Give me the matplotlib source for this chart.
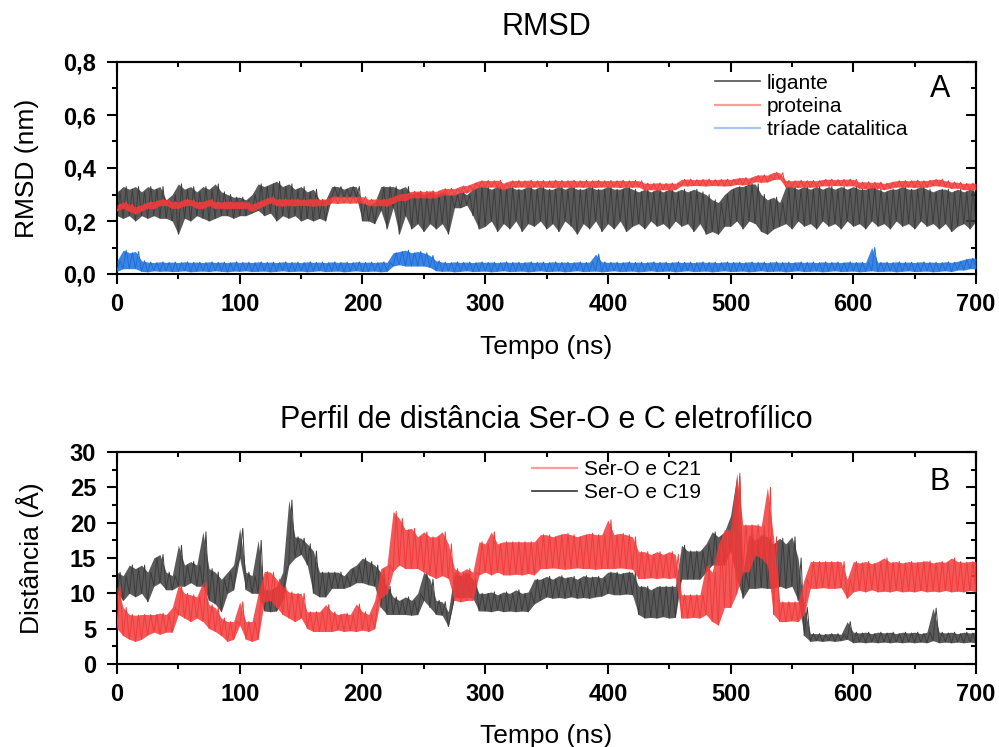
import numpy as np
import matplotlib
matplotlib.use("Agg")
import matplotlib.pyplot as plt
from matplotlib.ticker import MultipleLocator, FuncFormatter, NullFormatter
from matplotlib.lines import Line2D

plt.rcParams['font.family'] = ['Liberation Sans', 'DejaVu Sans']

# time grid (ns), one envelope pair (low / high) read every 5 ns
t = np.arange(0, 705, 5)

# ---- panel A: RMSD (nm) ----
lig_hi = [0.31,0.33,0.32,0.33,0.31,0.33,0.32,0.33,0.28,0.30,0.34,0.32,0.33,0.31,0.33,0.32,0.34,0.31,0.30,0.29,
          0.29,0.28,0.30,0.34,0.33,0.34,0.35,0.33,0.34,0.32,0.33,0.31,0.32,0.28,0.28,0.33,0.33,0.32,0.33,0.33,
          0.27,0.26,0.27,0.33,0.33,0.33,0.32,0.33,0.30,0.31,0.30,0.31,0.30,0.31,0.30,0.30,0.31,0.30,0.32,0.33,
          0.33,0.32,0.33,0.32,0.33,0.32,0.32,0.33,0.32,0.33,0.32,0.32,0.33,0.32,0.33,0.32,0.32,0.33,0.32,0.32,
          0.33,0.32,0.32,0.33,0.32,0.31,0.32,0.31,0.32,0.31,0.32,0.31,0.32,0.31,0.32,0.31,0.30,0.28,0.27,0.30,
          0.32,0.33,0.33,0.34,0.34,0.30,0.28,0.29,0.27,0.33,0.33,0.32,0.33,0.32,0.33,0.32,0.33,0.32,0.33,0.32,
          0.33,0.32,0.32,0.33,0.32,0.31,0.32,0.32,0.33,0.32,0.32,0.33,0.32,0.31,0.32,0.32,0.31,0.32,0.31,0.32,
          0.31]
lig_lo = [0.22,0.21,0.22,0.20,0.22,0.21,0.22,0.21,0.21,0.20,0.15,0.21,0.20,0.22,0.21,0.20,0.21,0.22,0.22,0.21,
          0.22,0.22,0.23,0.24,0.22,0.23,0.20,0.22,0.21,0.22,0.20,0.21,0.20,0.21,0.20,0.29,0.29,0.29,0.29,0.29,
          0.20,0.20,0.19,0.24,0.17,0.25,0.15,0.22,0.17,0.19,0.16,0.19,0.17,0.19,0.15,0.25,0.25,0.26,0.22,0.17,
          0.18,0.20,0.16,0.19,0.17,0.20,0.16,0.19,0.18,0.20,0.17,0.19,0.16,0.20,0.18,0.15,0.19,0.17,0.20,0.16,
          0.19,0.17,0.20,0.16,0.18,0.19,0.17,0.20,0.18,0.19,0.17,0.20,0.18,0.19,0.16,0.19,0.15,0.16,0.15,0.18,
          0.18,0.20,0.17,0.20,0.19,0.16,0.15,0.17,0.18,0.19,0.17,0.20,0.18,0.19,0.17,0.20,0.18,0.19,0.17,0.20,
          0.18,0.19,0.17,0.20,0.18,0.19,0.17,0.20,0.18,0.19,0.17,0.20,0.18,0.19,0.17,0.19,0.16,0.18,0.19,0.17,
          0.20]

prot_hi = [0.262,0.272,0.264,0.254,0.262,0.272,0.274,0.282,0.281,0.273,0.272,0.283,0.281,0.272,0.274,0.282,0.273,0.272,0.274,0.272,
           0.273,0.272,0.264,0.273,0.283,0.292,0.282,0.284,0.282,0.283,0.281,0.282,0.284,0.282,0.283,0.292,0.294,0.292,0.293,0.292,
           0.292,0.282,0.283,0.282,0.284,0.293,0.302,0.304,0.312,0.313,0.312,0.314,0.312,0.322,0.323,0.322,0.332,0.334,0.343,0.352,
           0.353,0.352,0.354,0.343,0.352,0.353,0.352,0.354,0.352,0.353,0.352,0.354,0.353,0.352,0.354,0.352,0.353,0.352,0.354,0.352,
           0.353,0.352,0.354,0.352,0.353,0.352,0.343,0.342,0.344,0.342,0.343,0.342,0.357,0.358,0.356,0.357,0.358,0.356,0.357,0.358,
           0.357,0.362,0.364,0.362,0.372,0.374,0.373,0.384,0.382,0.353,0.352,0.354,0.352,0.353,0.352,0.357,0.358,0.356,0.357,0.358,
           0.357,0.347,0.348,0.346,0.347,0.342,0.347,0.352,0.353,0.352,0.354,0.352,0.353,0.357,0.358,0.352,0.347,0.346,0.342,0.343,
           0.342]
prot_lo = [0.238,0.248,0.236,0.226,0.238,0.248,0.246,0.258,0.259,0.247,0.248,0.257,0.259,0.248,0.246,0.258,0.247,0.248,0.246,0.248,
           0.247,0.248,0.236,0.247,0.257,0.268,0.258,0.256,0.258,0.257,0.259,0.258,0.256,0.258,0.257,0.268,0.266,0.268,0.267,0.268,
           0.268,0.258,0.257,0.258,0.256,0.267,0.278,0.276,0.288,0.287,0.288,0.286,0.288,0.298,0.297,0.298,0.308,0.306,0.317,0.328,
           0.327,0.328,0.326,0.317,0.328,0.327,0.328,0.326,0.328,0.327,0.328,0.326,0.327,0.328,0.326,0.328,0.327,0.328,0.326,0.328,
           0.327,0.328,0.326,0.328,0.327,0.328,0.317,0.318,0.316,0.318,0.317,0.318,0.333,0.332,0.334,0.333,0.332,0.334,0.333,0.332,
           0.333,0.338,0.336,0.338,0.348,0.346,0.347,0.356,0.358,0.327,0.328,0.326,0.328,0.327,0.328,0.333,0.332,0.334,0.333,0.332,
           0.333,0.323,0.322,0.324,0.323,0.318,0.323,0.328,0.327,0.328,0.326,0.328,0.327,0.333,0.332,0.328,0.323,0.324,0.318,0.317,
           0.318]

tri_hi = [0.050,0.090,0.080,0.085,0.050,0.045,0.043,0.046,0.044,0.045,0.043,0.046,0.044,0.045,0.043,0.046,0.044,0.045,0.043,0.046,
          0.044,0.045,0.043,0.046,0.044,0.045,0.043,0.046,0.044,0.045,0.043,0.046,0.044,0.045,0.043,0.046,0.044,0.045,0.043,0.046,
          0.044,0.045,0.043,0.046,0.044,0.080,0.085,0.090,0.080,0.085,0.080,0.070,0.050,0.045,0.043,0.046,0.044,0.045,0.043,0.046,
          0.044,0.045,0.043,0.046,0.044,0.045,0.043,0.046,0.044,0.045,0.043,0.046,0.044,0.045,0.043,0.046,0.044,0.045,0.075,0.046,
          0.044,0.045,0.043,0.046,0.044,0.045,0.043,0.046,0.044,0.045,0.043,0.046,0.044,0.045,0.043,0.046,0.044,0.045,0.043,0.046,
          0.044,0.045,0.043,0.046,0.044,0.045,0.043,0.046,0.044,0.045,0.043,0.046,0.044,0.045,0.043,0.046,0.044,0.045,0.043,0.046,
          0.044,0.045,0.043,0.100,0.044,0.045,0.043,0.046,0.044,0.045,0.043,0.046,0.044,0.045,0.043,0.046,0.044,0.048,0.055,0.060,
          0.060]
tri_lo = [0.010,0.020,0.020,0.020,0.010,0.008,0.012,0.010,0.011,0.009,0.010,0.012,0.008,0.010,0.011,0.009,0.012,0.010,0.008,0.011,
          0.010,0.012,0.009,0.010,0.011,0.008,0.010,0.012,0.009,0.010,0.011,0.008,0.010,0.012,0.009,0.010,0.011,0.008,0.010,0.012,
          0.009,0.010,0.011,0.008,0.010,0.030,0.035,0.030,0.030,0.030,0.030,0.025,0.012,0.010,0.011,0.008,0.010,0.012,0.009,0.010,
          0.011,0.008,0.010,0.012,0.009,0.010,0.011,0.008,0.010,0.012,0.009,0.010,0.011,0.008,0.010,0.012,0.009,0.010,0.011,0.008,
          0.010,0.012,0.009,0.010,0.011,0.008,0.010,0.012,0.009,0.010,0.011,0.008,0.010,0.012,0.009,0.010,0.011,0.008,0.010,0.012,
          0.009,0.010,0.011,0.008,0.010,0.012,0.009,0.010,0.011,0.008,0.010,0.012,0.009,0.010,0.011,0.008,0.010,0.012,0.009,0.010,
          0.011,0.008,0.010,0.012,0.009,0.010,0.011,0.008,0.010,0.012,0.009,0.010,0.011,0.008,0.010,0.012,0.009,0.015,0.015,0.020,
          0.020]

# ---- panel B: distance (A) ----
c21_hi = [11,8,7,6.9,7,7,7,7.2,7,8,11.2,10,9.8,9.5,11.6,8.4,8,6.5,6,6,
          8.8,6,6,10,13.1,13,12,11,10.2,10,10,7.4,7.4,7.4,8.4,7.4,7,7.2,7,8.5,
          7.4,7,9,13.5,14,21.6,20.6,19,19.2,18,18.7,18,18,18.7,17,13.5,13,13.5,13,17.3,
          17,18.7,17,17.3,17.3,17.3,17.3,17.3,17.3,18.3,18.3,18,18.3,18.5,18.3,18,18.3,18.5,18.3,18.3,
          20.4,18.3,18.5,18.3,18,15.9,15.9,15.5,15.9,15.5,15.9,15.5,9.8,9.8,9.8,9.8,14,13,17,19,
          19,27,19.7,19.7,19.7,19.5,25,18,8.8,8.8,8.8,8.8,12,14.5,14.5,14.5,14.5,14.5,14.5,12,
          14.5,14.3,14.5,14.2,14.5,15,14.4,14.5,14.3,14.5,14.4,14.5,14.6,14.3,14.5,14.4,15,14.5,14.4,14.5,
          14.5]
c21_lo = [5,4,3.5,3.2,3.5,4.1,4.5,4.2,4.5,4.5,7,6.5,6,6.5,6,5,4.6,4,3.2,3.5,
          5.5,3.5,3.2,3.5,8.8,9,8,7,6.5,6,6.5,5,4.6,4.6,4.6,4.6,4.8,4.6,4.7,4.6,
          4.8,4.6,5,9.3,10,13.1,14,13.5,13.5,13.5,13,12.5,12.1,12.5,12.1,9,8.8,9,9,12.6,
          13,12.6,13,12.6,12.6,12.7,12.6,12.8,12.6,13.5,13.5,13.6,13.5,13.4,13.5,13.6,13.5,13.5,13.4,13.5,
          13.5,13.5,13.6,13.5,13.4,12.1,12.1,12.2,12.1,12.2,12.1,12.2,6.5,6.5,6.6,6.5,7,6,5.5,8,
          8,10,13,13.1,15.4,15,14,7,6,6,6.1,6,7,10.7,10.7,10.8,10.7,10.7,10.8,9.3,
          10.2,10.4,10.2,10.5,10.2,10.3,10.2,10.4,10.2,10.3,10.2,10.4,10.2,10.3,10.2,10.4,10.2,10.3,10.2,10.4,
          10.2]

c19_hi = [13,12.5,14,13.5,14,13,15,15.5,13,12.5,16.8,14,14.5,14,18.7,13.5,13,12,13,14,
          19.2,13,12.5,17.5,10.5,10.5,11,13,23.2,18,17.8,17,16,13,13,13,13,12.5,13.5,14,
          15,14.5,14,13,11,9.5,9,9.5,9,10,13,12,9,8.8,7.4,13,12.5,13,12,10,
          10,10.2,9.8,10.2,10,10.5,10,10.2,12,12,12.4,12,12.5,12.2,12.4,12,12.5,12.3,12.4,12.2,
          13,13,12.8,13,13,11,11,10.5,11,11,11,11,16.8,16,16,16,17,18.7,18,18.7,
          21,26.5,13,18.3,17.5,18.3,18,17,17.8,17,18,15,8,4.3,4.3,4.2,4.3,4.3,4.2,6,
          4.5,4.4,4.5,4.3,4.5,4.4,4.5,4.3,4.5,4.4,4.5,4.3,4.5,7.9,4.5,4.4,4.5,4.3,4.5,4.4,
          4.5]
c19_lo = [10,9,10,9.5,10,8.8,11,11.5,10.5,10.5,11,11,11.5,11,11,9,8.5,7.4,10,10.5,
          15,10.5,10,10,7.5,7.4,7.5,9,14,15,15.5,14,10,9.5,9.5,10.7,10.7,10.7,11,11.5,
          11.5,11.2,11,8,7,7,7,7,6.9,7,9,8,7,6.9,5.3,9.5,9.3,9.5,9.3,7.5,
          7.5,7.4,7.6,7.4,7.5,7.4,7.5,7.4,8.5,9,9.5,9.3,9.4,9.3,9.5,9.3,9.4,9.3,9.5,9.6,
          10,9.8,9.8,9.9,9.8,7,6.5,6.6,6.5,6.7,6.5,6.6,12,12,12,12,13,14,14,14,
          16,12,9.3,10.7,10.7,10.8,10.7,10.7,11,10.7,11,9,4,3.2,3.3,3.2,3.3,3.2,3.3,3.5,
          3,3.1,3,3.1,3,3.1,3,3.1,3,3.1,3,3.1,3,3.3,3,3.1,3,3.1,3,3.1,
          3]

GRAY = '#3d3d3d'
RED = '#f23b3b'
BLUE = '#1b6fdc'


def draw_band(ax, lo, hi, color, z):
    ax.fill_between(t, lo, hi, color=color, alpha=0.85, lw=0, zorder=z)
    x = np.column_stack([t, t + 2.5]).ravel()
    y = np.column_stack([lo, hi]).ravel()
    ax.plot(x, y, color=color, lw=0.7, alpha=1.0, zorder=z)


def style_axes(ax, ymax, ymaj, ymin, fmt):
    ax.set_xlim(0, 700)
    ax.set_ylim(0, ymax)
    ax.xaxis.set_major_locator(MultipleLocator(100))
    ax.xaxis.set_minor_locator(MultipleLocator(50))
    ax.yaxis.set_major_locator(MultipleLocator(ymaj))
    ax.yaxis.set_minor_locator(MultipleLocator(ymin))
    ax.yaxis.set_major_formatter(FuncFormatter(fmt))
    for s in ax.spines.values():
        s.set_linewidth(1.5)
    ax.tick_params(which='both', direction='out', width=1.5, labelsize=17)
    ax.tick_params(which='major', length=7)
    ax.tick_params(which='minor', length=3.6)
    ax.tick_params(axis='x', pad=7)
    ax.tick_params(axis='y', pad=8)
    for lab in ax.get_xticklabels() + ax.get_yticklabels():
        lab.set_fontweight('bold')
    # mirrored ticks on top/right pointing inward
    top = ax.secondary_xaxis('top')
    top.xaxis.set_major_locator(MultipleLocator(100))
    top.xaxis.set_minor_locator(MultipleLocator(50))
    top.xaxis.set_major_formatter(NullFormatter())
    top.tick_params(which='both', direction='in', width=1.5)
    top.tick_params(which='major', length=7)
    top.tick_params(which='minor', length=3.6)
    top.spines['top'].set_linewidth(1.5)
    right = ax.secondary_yaxis('right')
    right.yaxis.set_major_locator(MultipleLocator(ymaj))
    right.yaxis.set_minor_locator(MultipleLocator(ymin))
    right.yaxis.set_major_formatter(NullFormatter())
    right.tick_params(which='both', direction='in', width=1.5)
    right.tick_params(which='major', length=7)
    right.tick_params(which='minor', length=3.6)
    right.spines['right'].set_linewidth(1.5)


W, H = 999, 747
fig = plt.figure(figsize=(W / 100, H / 100), dpi=100)


def px_axes(x0, x1, ytop, ybot):
    return fig.add_axes([x0 / W, 1 - ybot / H, (x1 - x0) / W, (ybot - ytop) / H])


ax1 = px_axes(117, 976, 62, 274)
ax2 = px_axes(117, 976, 452, 664)

# panel A
draw_band(ax1, lig_lo, lig_hi, GRAY, 2)
draw_band(ax1, prot_lo, prot_hi, RED, 3)
draw_band(ax1, tri_lo, tri_hi, BLUE, 4)
style_axes(ax1, 0.8, 0.2, 0.1, lambda v, p: f"{v:.1f}".replace('.', ','))

# panel B
draw_band(ax2, c19_lo, c19_hi, GRAY, 2)
draw_band(ax2, c21_lo, c21_hi, RED, 3)
style_axes(ax2, 30, 5, 2.5, lambda v, p: f"{v:.0f}")

# legends
h1 = [Line2D([], [], color='#505050', lw=1.2),
      Line2D([], [], color='#ff9c9c', lw=1.6),
      Line2D([], [], color='#a8c7f0', lw=1.6)]
ax1.legend(h1, ['ligante', 'proteina', 'tríade catalitica'], loc='upper left',
           bbox_to_anchor=(0.696, 0.945), frameon=False, fontsize=15,
           handlelength=2.15, handletextpad=0.35, labelspacing=0.2,
           borderpad=0, borderaxespad=0)
h2 = [Line2D([], [], color='#ff9c9c', lw=1.6),
      Line2D([], [], color='#333333', lw=1.2)]
ax2.legend(h2, ['Ser-O e C21', 'Ser-O e C19'], loc='upper left',
           bbox_to_anchor=(0.483, 0.962), frameon=False, fontsize=15,
           handlelength=2.15, handletextpad=0.35, labelspacing=0.2,
           borderpad=0, borderaxespad=0)

ax1.text(0.958, 0.873, 'A', transform=ax1.transAxes, ha='center', va='center', fontsize=22)
ax2.text(0.958, 0.858, 'B', transform=ax2.transAxes, ha='center', va='center', fontsize=22)

# titles and axis labels
cx = (117 + 976) / 2 / W
fig.text(cx, 1 - 27 / H, 'RMSD', ha='center', va='center', fontsize=22)
fig.text(cx, 1 - 420 / H, 'Perfil de distância Ser-O e C eletrofílico', ha='center', va='center', fontsize=22)
fig.text(cx, 1 - 347 / H, 'Tempo (ns)', ha='center', va='center', fontsize=19)
fig.text(cx, 1 - 736 / H, 'Tempo (ns)', ha='center', va='center', fontsize=19)
fig.text(27 / W, 1 - 168 / H, 'RMSD (nm)', ha='center', va='center', rotation=90, fontsize=19)
fig.text(30 / W, 1 - 558 / H, 'Distância (Å)', ha='center', va='center', rotation=90, fontsize=19)

fig.savefig('out.png', dpi=100)
